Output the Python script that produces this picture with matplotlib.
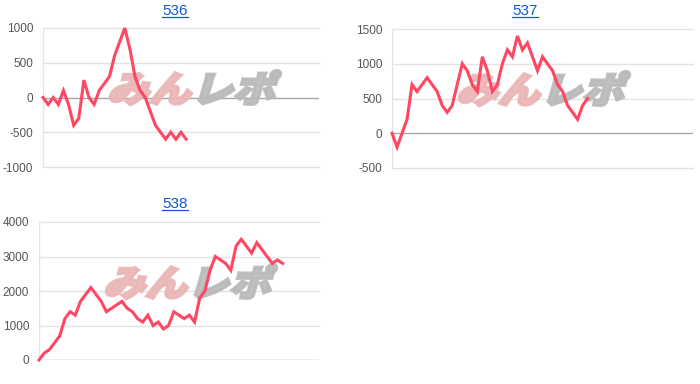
# 3台分の差枚グラフ（536 / 537 / 538）を再現する。
import matplotlib
matplotlib.use('Agg')
import matplotlib.pyplot as plt
from matplotlib.lines import Line2D
from matplotlib.patches import PathPatch
from matplotlib.textpath import TextPath
from matplotlib.font_manager import FontProperties
from matplotlib.transforms import Affine2D, IdentityTransform

plt.rcParams['font.family'] = ['Liberation Sans', 'DejaVu Sans']
plt.rcParams['axes.unicode_minus'] = False

# データ
titles = ['536', '537', '538']
diff_536 = [0, -100, 0, -100, 100, -100, -400, -300, 250, 0, -100, 100, 200, 300, 600,
            800, 1000, 700, 300, 100, 0, -200, -400, -500, -600, -500, -600, -500, -600]
diff_537 = [0, -200, 0, 200, 700, 600, 700, 800, 700, 600, 400, 300, 400, 700, 1000,
            900, 700, 600, 1100, 900, 600, 700, 1000, 1200, 1100, 1400, 1200, 1300, 1100,
            900, 1100, 1000, 900, 700, 600, 400, 300, 200, 400, 500]
diff_538 = [0, 200, 300, 500, 700, 1200, 1400, 1300, 1700, 1900, 2100, 1900, 1700, 1400,
            1500, 1600, 1700, 1500, 1400, 1200, 1100, 1300, 1000, 1100, 900, 1000, 1400,
            1300, 1200, 1300, 1100, 1800, 2000, 2600, 3000, 2900, 2800, 2600, 3300, 3500,
            3300, 3100, 3400, 3200, 3000, 2800, 2900, 2800]
y_ticks_536 = [-1000, -500, 0, 500, 1000]
y_ticks_537 = [-500, 0, 500, 1000, 1500]
y_ticks_538 = [0, 1000, 2000, 3000, 4000]

W, H = 700, 384
LINE_COLOR = '#ff4763'

# (left, top, width, height) ピクセル, x軸の最大値, タイトル中心x, タイトルy
panels = [
    (diff_536, y_ticks_536, (43, 28, 276, 139), 54, 175, 11),
    (diff_537, y_ticks_537, (392, 29, 301, 139), 60, 525, 11),
    (diff_538, y_ticks_538, (39, 222, 280, 138), 54, 175, 204),
]


def add_watermark(ax, x, y):
    # 「みんレポ」風のロゴ（斜体っぽく傾けて太らせる）
    prop = FontProperties(family='Noto Sans CJK JP', weight='black')
    skew = Affine2D().skew_deg(14, 0).scale(1.1, 0.95)
    for text, color, dx in [('みん', '#eab5b5', 0), ('レポ', '#b9b9b9', 84)]:
        path = TextPath((0, 0), text, size=38, prop=prop)
        trans = skew + Affine2D().translate(x + dx, y) + IdentityTransform()
        patch = PathPatch(path, facecolor=color, edgecolor=color, lw=2.2, alpha=0.9,
                          transform=trans, zorder=1.5, clip_on=False)
        ax.add_patch(patch)


fig = plt.figure(figsize=(W / 100, H / 100), dpi=100)

for (values, ticks, (left, top, width, height), xmax, tx, ty), title in zip(panels, titles):
    ax = fig.add_axes([left / W, (H - top - height) / H, width / W, height / H])
    ax.set_xlim(0, xmax)
    ax.set_ylim(ticks[0], ticks[-1])
    ax.set_yticks(ticks)
    ax.set_xticks([])
    for s in ax.spines.values():
        s.set_visible(False)
    for t in ticks:
        if t == 0:
            ax.axhline(t, color='#a8a8a8', lw=1.0, zorder=1)
        else:
            ax.axhline(t, color='#e4e4e4', lw=1.0, zorder=1, clip_on=False)
    ax.axvline(0, color='#e4e4e4', lw=1.0, zorder=1)
    ax.tick_params(axis='y', length=0, pad=7, labelsize=8.5, labelcolor='#555555')

    add_watermark(ax, left + 64, H - top - 74)

    ax.plot(range(len(values)), values, color=LINE_COLOR, lw=2.2, zorder=3,
            solid_joinstyle='miter', clip_on=False)

    # タイトル（リンク風の下線付き）
    t = fig.text(tx / W, 1 - ty / H, title, ha='center', va='center',
                 fontsize=11, color='#1155cc')
    fig.canvas.draw()
    bb = t.get_window_extent()
    fig.add_artist(Line2D([bb.x0 / W, bb.x1 / W], [(bb.y0 + 1) / H] * 2,
                          color='#1155cc', lw=0.9))

fig.savefig('out.png', dpi=100)
